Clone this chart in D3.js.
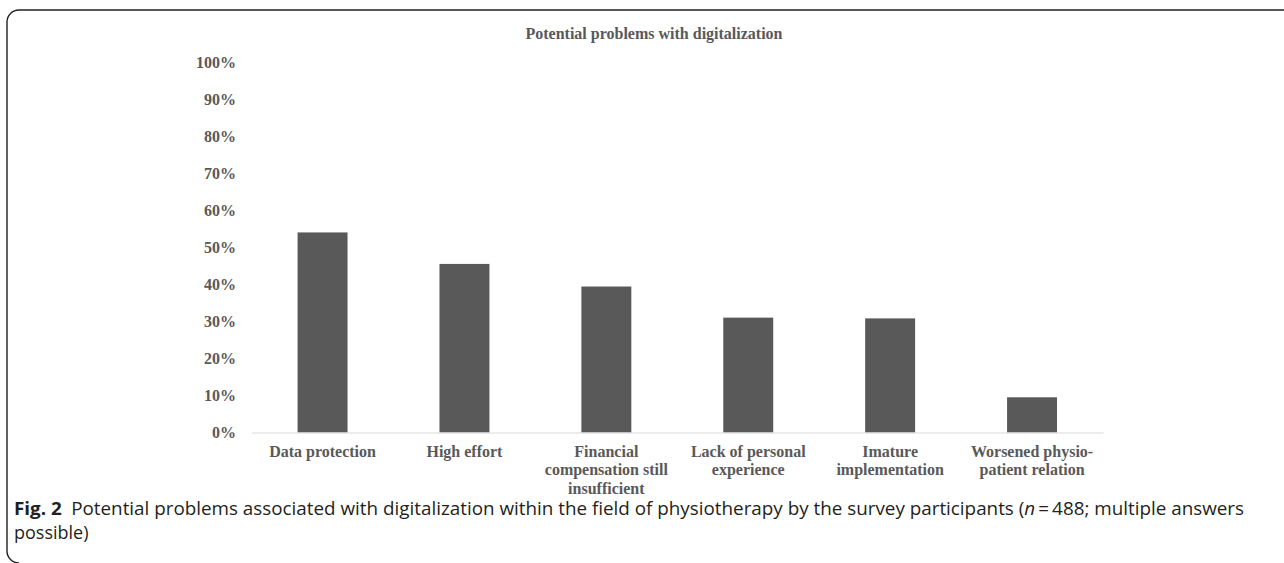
<!DOCTYPE html>
<html>
<head>
<meta charset="utf-8">
<script src="https://cdn.jsdelivr.net/npm/d3@7"></script>
<style>
  html, body { margin: 0; padding: 0; background: #ffffff; }
  svg { display: block; }
</style>
</head>
<body>
<svg id="chart" width="1284" height="563"></svg>
<script>
// ---- data ----
const categories = [
  ["Data protection"],
  ["High effort"],
  ["Financial", "compensation still", "insufficient"],
  ["Lack of personal", "experience"],
  ["Imature", "implementation"],
  ["Worsened physio-", "patient relation"]
];
const values = [0.540, 0.455, 0.394, 0.310, 0.308, 0.095];
const yTicks = [0, 0.1, 0.2, 0.3, 0.4, 0.5, 0.6, 0.7, 0.8, 0.9, 1.0];
const chartTitle = "Potential problems with digitalization";
const captionLabel = "Fig. 2";
const captionLine1a = "Potential problems associated with digitalization within the field of physiotherapy by the survey participants (";
const captionItalic = "n";
const captionLine1b = "\u2009=\u2009488; multiple answers";
const captionLine2 = "possible)";

// ---- layout ----
const svg = d3.select("#chart");
const W = 1284, H = 563;
const plot = { left: 251.6, right: 1103, top: 62, bottom: 432.5 };
const gray = "#595959";
const serif = "'Liberation Serif', 'Times New Roman', serif";

// frame with rounded corners
svg.append("path")
  .attr("d", `M ${W + 5},10 H 19 A 12 12 0 0 0 7 22 V 551 A 12 12 0 0 0 19 563`)
  .attr("fill", "none")
  .attr("stroke", "#231f20")
  .attr("stroke-width", 1.4);

const x = d3.scaleBand()
  .domain(d3.range(categories.length))
  .range([plot.left, plot.right])
  .paddingInner(0.648)
  .paddingOuter(0.324);

const y = d3.scaleLinear()
  .domain([0, 1])
  .range([plot.bottom, plot.top]);

// title
svg.append("text")
  .attr("x", 654)
  .attr("y", 39)
  .attr("text-anchor", "middle")
  .attr("font-family", serif)
  .attr("font-weight", "bold")
  .attr("font-size", 16)
  .attr("fill", gray)
  .text(chartTitle);

// y axis (labels only)
const yAxis = d3.axisLeft(y)
  .tickValues(yTicks)
  .tickFormat(d3.format(".0%"))
  .tickSize(0)
  .tickPadding(0);
const gy = svg.append("g")
  .attr("transform", `translate(236,0)`)
  .call(yAxis);
gy.select(".domain").remove();
gy.selectAll("text")
  .attr("font-family", serif)
  .attr("font-weight", "bold")
  .attr("font-size", 16)
  .attr("fill", gray);

// bars
svg.append("g").selectAll("rect")
  .data(values)
  .join("rect")
  .attr("x", (d, i) => x(i))
  .attr("y", d => y(d))
  .attr("width", x.bandwidth())
  .attr("height", d => y(0) - y(d))
  .attr("fill", gray);

// x axis baseline
const xAxis = d3.axisBottom(x).tickSize(0).tickFormat("");
const gx = svg.append("g")
  .attr("transform", `translate(0,${plot.bottom})`)
  .call(xAxis);
gx.select(".domain")
  .attr("stroke", "#d9d9d9")
  .attr("stroke-width", 1.2);
gx.selectAll(".tick text").remove();

// x category labels (multi-line)
const lbl = svg.append("g").selectAll("text")
  .data(categories)
  .join("text")
  .attr("text-anchor", "middle")
  .attr("font-family", serif)
  .attr("font-weight", "bold")
  .attr("font-size", 16)
  .attr("fill", gray);
lbl.each(function(lines, i) {
  const t = d3.select(this);
  lines.forEach((ln, k) => {
    t.append("tspan")
      .attr("x", x(i) + x.bandwidth() / 2)
      .attr("y", 456.5 + k * 18.5)
      .text(ln);
  });
});

// caption: fitted so the first line spans the reference width
const capFont = "'Open Sans', 'Noto Sans', sans-serif";
const capLeft = 14, capRight = 1244, capSize = 18;
const cap = svg.append("text")
  .attr("x", capLeft)
  .attr("y", 515)
  .attr("font-family", capFont)
  .attr("font-size", capSize)
  .attr("fill", "#231f20")
  .attr("textLength", capRight - capLeft)
  .attr("lengthAdjust", "spacingAndGlyphs");
cap.append("tspan").attr("font-weight", "bold").text(captionLabel);
cap.append("tspan").attr("dx", "0.5em").text(captionLine1a);
cap.append("tspan").attr("font-style", "italic").text(captionItalic);
cap.append("tspan").text(captionLine1b);

svg.append("text")
  .attr("x", capLeft)
  .attr("y", 539)
  .attr("font-family", capFont)
  .attr("font-size", capSize)
  .attr("fill", "#231f20")
  .text(captionLine2);
</script>
</body>
</html>
